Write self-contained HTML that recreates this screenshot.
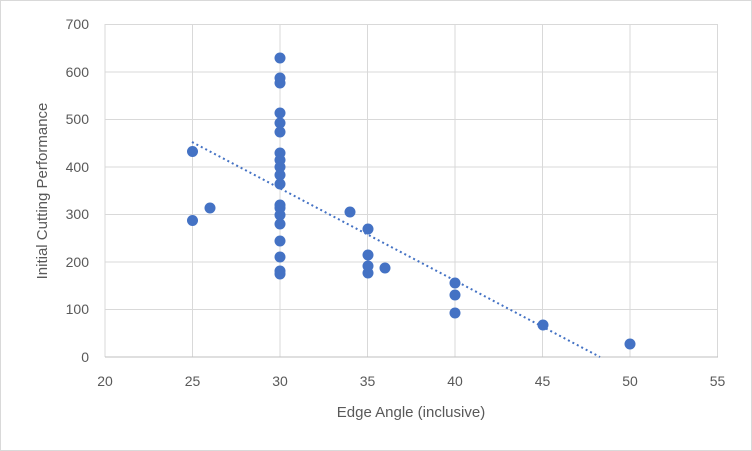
<!DOCTYPE html>
<html><head><style>
body{margin:0;background:#fff;}
svg{display:block;font-family:"Liberation Sans",sans-serif;}
</style></head><body>
<svg width="752" height="451" xmlns="http://www.w3.org/2000/svg">
<rect x="0.5" y="0.5" width="751" height="450" fill="#fff" stroke="#d9d9d9"/>
<g stroke="#d9d9d9" stroke-width="1">
<line x1="105" y1="24.5" x2="718" y2="24.5"/>
<line x1="105" y1="72" x2="718" y2="72"/>
<line x1="105" y1="119.5" x2="718" y2="119.5"/>
<line x1="105" y1="167" x2="718" y2="167"/>
<line x1="105" y1="214.5" x2="718" y2="214.5"/>
<line x1="105" y1="262" x2="718" y2="262"/>
<line x1="105" y1="309.5" x2="718" y2="309.5"/>
<line x1="192.5" y1="24" x2="192.5" y2="357"/>
<line x1="280" y1="24" x2="280" y2="357"/>
<line x1="367.5" y1="24" x2="367.5" y2="357"/>
<line x1="455" y1="24" x2="455" y2="357"/>
<line x1="542.5" y1="24" x2="542.5" y2="357"/>
<line x1="630" y1="24" x2="630" y2="357"/>
<line x1="717.5" y1="24" x2="717.5" y2="357"/>
<line x1="105" y1="24" x2="105" y2="357"/>
</g>
<line x1="105" y1="357" x2="718" y2="357" stroke="#bfbfbf"/>
<g font-size="14" fill="#595959" text-anchor="end">
<text x="89" y="29">700</text><text x="89" y="77">600</text><text x="89" y="124">500</text>
<text x="89" y="172">400</text><text x="89" y="219">300</text><text x="89" y="267">200</text>
<text x="89" y="314">100</text><text x="89" y="362">0</text>
</g>
<g font-size="14" fill="#595959" text-anchor="middle">
<text x="105" y="386">20</text><text x="192.5" y="386">25</text><text x="280" y="386">30</text>
<text x="367.5" y="386">35</text><text x="455" y="386">40</text><text x="542.5" y="386">45</text>
<text x="630" y="386">50</text><text x="717.5" y="386">55</text>
</g>
<text x="411" y="417" font-size="15" fill="#595959" text-anchor="middle">Edge Angle (inclusive)</text>
<text transform="translate(47,191) rotate(-90)" font-size="15" fill="#595959" text-anchor="middle">Initial Cutting Performance</text>
<line x1="192" y1="142" x2="600" y2="357" stroke="#4472c4" stroke-width="2" stroke-dasharray="2,3"/>
<g fill="#4472c4">
<circle cx="192.5" cy="151.5" r="5.5"/><circle cx="192.5" cy="220.5" r="5.5"/><circle cx="210" cy="208" r="5.5"/>
<circle cx="280" cy="58" r="5.5"/><circle cx="280" cy="78" r="5.5"/><circle cx="280" cy="83" r="5.5"/>
<circle cx="280" cy="113" r="5.5"/><circle cx="280" cy="123" r="5.5"/><circle cx="280" cy="132" r="5.5"/>
<circle cx="280" cy="153" r="5.5"/><circle cx="280" cy="160" r="5.5"/><circle cx="280" cy="167" r="5.5"/>
<circle cx="280" cy="175" r="5.5"/><circle cx="280" cy="184" r="5.5"/><circle cx="280" cy="205" r="5.5"/>
<circle cx="280" cy="208" r="5.5"/><circle cx="280" cy="215" r="5.5"/><circle cx="280" cy="224" r="5.5"/>
<circle cx="280" cy="241" r="5.5"/><circle cx="280" cy="257" r="5.5"/><circle cx="280" cy="271" r="5.5"/>
<circle cx="280" cy="274" r="5.5"/>
<circle cx="350" cy="212" r="5.5"/><circle cx="368" cy="229" r="5.5"/><circle cx="368" cy="255" r="5.5"/>
<circle cx="368" cy="266" r="5.5"/><circle cx="368" cy="273" r="5.5"/><circle cx="385" cy="268" r="5.5"/>
<circle cx="455" cy="283" r="5.5"/><circle cx="455" cy="295" r="5.5"/><circle cx="455" cy="313" r="5.5"/>
<circle cx="543" cy="325" r="5.5"/><circle cx="630" cy="344" r="5.5"/>
</g>
</svg>
</body></html>
